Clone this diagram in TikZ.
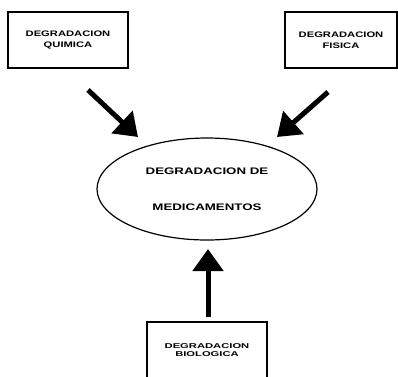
\documentclass[tikz,border=0pt]{standalone}
\usepackage{fontspec}
\newfontfamily\cajafont[FakeStretch=1.4]{Liberation Sans}
\newfontfamily\bajafont[FakeStretch=1.6]{Liberation Sans}
\usetikzlibrary{arrows.meta,shapes.geometric}
\begin{document}
\begin{tikzpicture}[x=1pt,y=-1pt,
    caja/.style={draw,line width=1.2pt,minimum width=120pt,minimum height=56pt,align=center,inner sep=0pt,font=\cajafont\bfseries\fontsize{8}{11}\selectfont},
    flecha/.style={line width=5pt,-{Triangle[length=22pt,width=30pt]}}]
    \useasboundingbox (0,0) rectangle (398,376);
    \node[caja](quim)at(68,40){DEGRADACION\\QUIMICA};
    \node[caja,minimum width=112pt](fis)at(341,40){DEGRADACION\\FISICA};
    \node[caja,font=\bajafont\bfseries\fontsize{7}{7.5}\selectfont](bio)at(207,350){DEGRADACION\\BIOLOGICA};
    \node[ellipse,draw,line width=1.2pt,minimum width=220pt,minimum height=102pt,align=center,font=\cajafont\bfseries\fontsize{9.5}{36.5}\selectfont](med)at(207,189){DEGRADACION DE\\MEDICAMENTOS};
    % flechas hacia la elipse
    \coordinate(q1)at(88,90);   \coordinate(q2)at(138,137);
    \coordinate(f1)at(328,92);  \coordinate(f2)at(277,137);
    \coordinate(b1)at(208,317); \coordinate(b2)at(208,249);
    \draw[flecha](q1)--(q2);
    \draw[flecha](f1)--(f2);
    \draw[flecha](b1)--(b2);
\end{tikzpicture}
\end{document}
